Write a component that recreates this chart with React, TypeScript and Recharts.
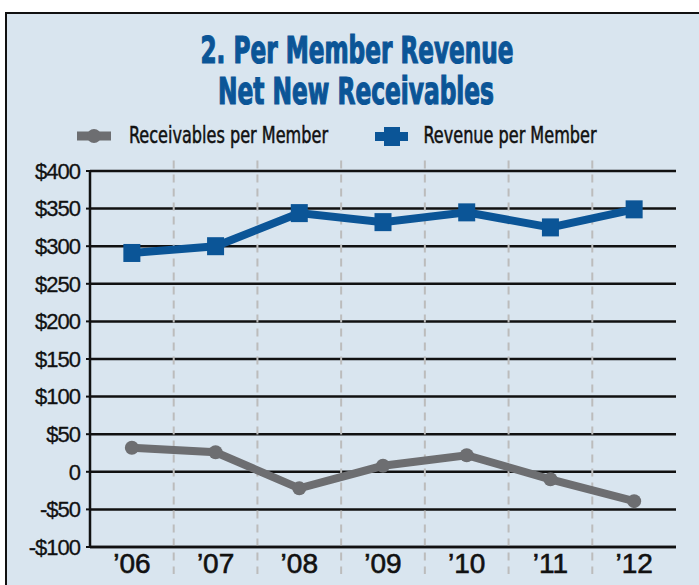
import { LineChart, Line, XAxis, YAxis, CartesianGrid, ReferenceLine } from "recharts";

const YEARS = ["\u201906", "\u201907", "\u201908", "\u201909", "\u201910", "\u201911", "\u201912"];
const RECEIVABLES = [32, 26, -22, 8, 22, -10, -39];
const REVENUE = [291, 300, 344, 332, 345, 325, 349];
const Y_TICKS = [-100, -50, 0, 50, 100, 150, 200, 250, 300, 350, 400];
const SERIES_NAMES = ["Receivables per Member", "Revenue per Member"];
const TITLE = ["2. Per Member Revenue", "Net New Receivables"];
const DIVIDERS = [0.5, 1.5, 2.5, 3.5, 4.5, 5.5];

const BLUE = "#0b5597";
const GRAY = "#6d6e71";
const INK = "#111";
const CONDENSED = "'DejaVu Sans Condensed', 'Liberation Sans Narrow', 'Liberation Sans', sans-serif";
const SANS = "'Liberation Sans', Arial, sans-serif";

const data = YEARS.map((year, idx) => ({
  idx,
  year,
  receivables: RECEIVABLES[idx],
  revenue: REVENUE[idx],
}));

const fmtMoney = (v: number) => (v === 0 ? "0" : v < 0 ? `-$${-v}` : `$${v}`);

const SquareDot = (props: any) => {
  const { cx, cy, index } = props;
  if (cx == null || cy == null) return null;
  return <rect key={`sq-${index}`} x={cx - 8.5} y={cy - 9} width={17} height={18} fill={BLUE} />;
};

export default function App() {
  return (
    <div style={{ position: "absolute", left: 0, top: 0, width: 699, height: 585, background: "#fff", overflow: "hidden" }}>
      <div
        style={{
          position: "absolute",
          left: 5,
          top: 12,
          right: 0,
          bottom: 0,
          background: "#d9e5ef",
          borderTop: `2.5px solid ${INK}`,
          borderLeft: `2.5px solid ${INK}`,
        }}
      />
      <svg width={699} height={585} style={{ position: "absolute", left: 0, top: 0 }}>
        <text x={357} y={63} textAnchor="middle" textLength={313} lengthAdjust="spacingAndGlyphs"
          fontSize={37} fontWeight="bold" fontFamily={CONDENSED} fill={BLUE}
          stroke={BLUE} strokeWidth={1.2}>{TITLE[0]}</text>
        <text x={356} y={104} textAnchor="middle" textLength={276} lengthAdjust="spacingAndGlyphs"
          fontSize={37} fontWeight="bold" fontFamily={CONDENSED} fill={BLUE}
          stroke={BLUE} strokeWidth={1.2}>{TITLE[1]}</text>

        {/* legend */}
        <line x1={77} x2={111} y1={136} y2={136} stroke={GRAY} strokeWidth={9} />
        <circle cx={94} cy={136} r={7} fill={GRAY} />
        <text x={129} y={143} textLength={199} lengthAdjust="spacingAndGlyphs" fontSize={23}
          fontFamily={CONDENSED} fill={INK} stroke={INK} strokeWidth={0.5}>{SERIES_NAMES[0]}</text>
        <line x1={375} x2={408} y1={136.5} y2={136.5} stroke={BLUE} strokeWidth={9} />
        <rect x={384} y={127} width={16} height={19} fill={BLUE} />
        <text x={423.5} y={143} textLength={173} lengthAdjust="spacingAndGlyphs" fontSize={23}
          fontFamily={CONDENSED} fill={INK} stroke={INK} strokeWidth={0.5}>{SERIES_NAMES[1]}</text>
      </svg>

      <LineChart
        width={699}
        height={585}
        data={data}
        margin={{ top: 171, right: 23, bottom: 8, left: 0 }}
        style={{ position: "absolute", left: 0, top: 0 }}
      >
        <CartesianGrid vertical={false} stroke={INK} strokeWidth={2.5} />
        {DIVIDERS.map((d) => (
          <ReferenceLine
            key={d}
            ifOverflow="visible"
            segment={[{ x: d, y: 414 }, { x: d, y: -136 }]}
            stroke="#bcbcbc"
            strokeWidth={2}
            strokeDasharray="8 6"
          />
        ))}
        <XAxis
          dataKey="idx"
          type="number"
          domain={[-0.5, 6.5]}
          ticks={[0, 1, 2, 3, 4, 5, 6]}
          tickFormatter={(i: number) => YEARS[i]}
          axisLine={{ stroke: INK, strokeWidth: 2.5 }}
          tickLine={false}
          tickSize={0}
          tickMargin={6}
          height={30}
          tick={{ fill: INK, stroke: INK, strokeWidth: 0.6, fontSize: 28, fontFamily: SANS }}
        />
        <YAxis
          type="number"
          domain={[-100, 400]}
          ticks={Y_TICKS}
          tickFormatter={fmtMoney}
          width={90}
          axisLine={{ stroke: INK, strokeWidth: 2.5 }}
          tickLine={{ stroke: INK, strokeWidth: 2 }}
          tickSize={4}
          tickMargin={6}
          interval={0}
          tick={{ fill: INK, stroke: INK, strokeWidth: 0.3, fontSize: 22, letterSpacing: -1, fontFamily: SANS }}
        />
        <Line
          dataKey="receivables"
          name={SERIES_NAMES[0]}
          stroke={GRAY}
          strokeWidth={8}
          dot={{ r: 7, fill: GRAY, stroke: "none" }}
          isAnimationActive={false}
        />
        <Line
          dataKey="revenue"
          name={SERIES_NAMES[1]}
          stroke={BLUE}
          strokeWidth={8}
          dot={SquareDot}
          isAnimationActive={false}
        />
      </LineChart>
    </div>
  );
}
